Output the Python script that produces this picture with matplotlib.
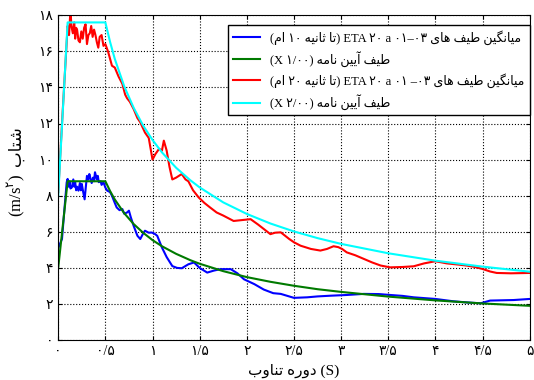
import matplotlib
matplotlib.use('Agg')
import matplotlib.pyplot as plt
from matplotlib.font_manager import FontProperties

# Persian letters -> (isolated, final, initial, medial) presentation forms
FORMS = {
    'ا': ('\uFE8D', '\uFE8E', None, None),
    'آ': ('\uFE81', '\uFE82', None, None),
    'ب': ('\uFE8F', '\uFE90', '\uFE91', '\uFE92'),
    'ت': ('\uFE95', '\uFE96', '\uFE97', '\uFE98'),
    'ث': ('\uFE99', '\uFE9A', '\uFE9B', '\uFE9C'),
    'د': ('\uFEA9', '\uFEAA', None, None),
    'ر': ('\uFEAD', '\uFEAE', None, None),
    'ش': ('\uFEB5', '\uFEB6', '\uFEB7', '\uFEB8'),
    'ط': ('\uFEC1', '\uFEC2', '\uFEC3', '\uFEC4'),
    'ف': ('\uFED1', '\uFED2', '\uFED3', '\uFED4'),
    'م': ('\uFEE1', '\uFEE2', '\uFEE3', '\uFEE4'),
    'ن': ('\uFEE5', '\uFEE6', '\uFEE7', '\uFEE8'),
    'ه': ('\uFEE9', '\uFEEA', '\uFEEB', '\uFEEC'),
    'و': ('\uFEED', '\uFEEE', None, None),
    'ی': ('\uFBFC', '\uFBFD', '\uFBFE', '\uFBFF'),
    'گ': ('\uFB92', '\uFB93', '\uFB94', '\uFB95'),
}


def fa(text):
    """shape persian words and return them in visual (left to right) order"""
    out = []
    for i, c in enumerate(text):
        if c not in FORMS:
            out.append(c)
            continue
        prev = text[i - 1] if i > 0 else ''
        nxt = text[i + 1] if i < len(text) - 1 else ''
        join_prev = prev in FORMS and FORMS[prev][2] is not None
        join_next = nxt in FORMS and FORMS[c][2] is not None
        iso, fin, ini, med = FORMS[c]
        if join_prev and join_next:
            out.append(med)
        elif join_prev:
            out.append(fin)
        elif join_next:
            out.append(ini)
        else:
            out.append(iso)
    return ''.join(out[::-1])


# ---- data ----
code_T = [0.0, 0.1, 0.5, 0.55, 0.6, 0.7, 0.8, 0.9, 1.0, 1.1, 1.25, 1.4, 1.5,
          1.75, 2.0, 2.25, 2.5, 2.75, 3.0, 3.5, 4.0, 4.5, 5.0]
code_x1 = [4.0, 8.8, 8.8, 8.26, 7.79, 7.03, 6.43, 5.95, 5.54, 5.20, 4.78, 4.43,
           4.23, 3.82, 3.49, 3.23, 3.01, 2.82, 2.67, 2.41, 2.20, 2.03, 1.90]
code_x2 = [8.0, 17.6, 17.6, 16.52, 15.58, 14.06, 12.87, 11.89, 11.09, 10.40, 9.55,
           8.86, 8.46, 7.63, 6.99, 6.46, 6.02, 5.65, 5.33, 4.81, 4.40, 4.07, 3.79]

blue_T = [0.0, 0.04, 0.07, 0.09, 0.1, 0.11, 0.12, 0.13, 0.145, 0.16, 0.17, 0.18,
          0.19, 0.2, 0.215, 0.23, 0.24, 0.25, 0.265, 0.28, 0.295, 0.305, 0.32,
          0.33, 0.34, 0.355, 0.37, 0.38, 0.39, 0.41, 0.42, 0.43, 0.45, 0.46,
          0.48, 0.5, 0.52, 0.55, 0.57, 0.6, 0.62, 0.65, 0.68, 0.7,
          0.73, 0.75, 0.77, 0.8, 0.84, 0.87, 0.9, 0.92, 0.96, 0.99, 1.02, 1.05,
          1.1, 1.15, 1.21, 1.26, 1.31, 1.38, 1.44, 1.5, 1.58, 1.65, 1.72, 1.83,
          1.9, 1.97, 2.08, 2.18, 2.28, 2.36, 2.5, 2.64, 2.75, 2.89, 3.06, 3.24,
          3.4, 3.52, 3.65, 3.77, 4.0, 4.19, 4.35, 4.48, 4.58, 4.83, 5.0]
blue_v = [5.1, 5.6, 7.5, 8.74, 8.93, 8.5, 8.8, 8.4, 8.46, 8.9, 8.5, 8.74,
          8.3, 8.5, 8.28, 8.7, 8.3, 8.65, 8.2, 7.8, 8.6, 9.1, 8.9,
          9.2, 9.0, 8.7, 9.0, 8.8, 9.3, 8.9, 9.1, 8.75, 8.8, 8.6,
          8.75, 8.45, 8.28, 8.2, 8.0, 7.6, 7.35, 7.2, 7.26, 7.0,
          7.07, 7.17, 6.8, 6.33, 5.78, 5.6, 5.9, 6.06, 5.95, 5.96, 5.9, 5.78,
          5.13, 4.6, 4.1, 4.0, 3.98, 4.2, 4.3, 4.0, 3.74, 3.85, 3.93, 3.93,
          3.7, 3.37, 3.1, 2.8, 2.6, 2.56, 2.34, 2.37, 2.42, 2.46, 2.5, 2.56,
          2.55, 2.5, 2.45, 2.37, 2.28, 2.15, 2.08, 2.04, 2.19, 2.22, 2.28]

red_T = [0.0, 0.05, 0.1, 0.115, 0.13, 0.14, 0.155, 0.17, 0.18, 0.19, 0.2, 0.215,
         0.23, 0.245, 0.26, 0.275, 0.29, 0.305, 0.32, 0.335, 0.35, 0.365, 0.38,
         0.395, 0.41, 0.425, 0.44, 0.46, 0.48, 0.5, 0.53, 0.57, 0.6, 0.64, 0.68,
         0.71, 0.73, 0.76, 0.8, 0.84, 0.87, 0.92, 0.96, 1.0, 1.03, 1.07, 1.1,
         1.12, 1.15, 1.18, 1.21, 1.25, 1.31, 1.35, 1.38, 1.43, 1.49, 1.55, 1.61,
         1.68, 1.75, 1.86, 1.95, 2.04, 2.12, 2.25, 2.3, 2.36, 2.45, 2.5, 2.57,
         2.68, 2.78, 2.85, 2.92, 2.97, 3.01, 3.06, 3.15, 3.24, 3.33, 3.42, 3.52,
         3.65, 3.77, 3.88, 4.0, 4.12, 4.25, 4.33, 4.42, 4.5, 4.58, 4.65, 4.8, 5.0]
red_v = [8.2, 12.9, 17.4, 16.9, 18.3, 17.4, 17.0, 17.6, 16.7, 17.3, 17.2, 16.6,
         16.5, 17.1, 16.7, 17.3, 17.5, 16.4, 16.9, 17.0, 17.4, 16.8, 17.2,
         16.9, 16.5, 16.2, 16.8, 16.9, 16.3, 16.4, 15.96, 15.2, 15.1, 14.6, 14.2,
         13.6, 13.4, 13.2, 12.8, 12.3, 12.07, 11.5, 11.2, 10.0, 10.3, 10.6, 10.5,
         11.05, 10.5, 9.6, 8.9, 9.0, 9.2, 8.9, 8.8, 8.3, 7.9, 7.6, 7.35,
         7.07, 6.9, 6.6, 6.65, 6.7, 6.4, 5.87, 5.95, 5.97, 5.6, 5.42, 5.23,
         5.05, 4.96, 5.05, 5.2, 5.15, 5.05, 4.86, 4.7, 4.5, 4.3, 4.13, 4.03,
         4.05, 4.09, 4.25, 4.37, 4.25, 4.18, 4.13, 4.05, 3.94, 3.8, 3.72, 3.7, 3.72]

fa_digits = str.maketrans('0123456789.', '۰۱۲۳۴۵۶۷۸۹/')
x_ticks = [0, 0.5, 1, 1.5, 2, 2.5, 3, 3.5, 4, 4.5, 5]
y_ticks = [0, 2, 4, 6, 8, 10, 12, 14, 16, 18]
x_labels = [('%g' % t).translate(fa_digits) for t in x_ticks]
y_labels = [('%g' % t).translate(fa_digits) for t in y_ticks]

avg = fa('میانگین طیف های')
upto = fa('تا ثانیه')
code = fa('طیف آیین نامه')
labels = [
    '(' + fa('ام') + ' ۱۰ ' + upto + ') ETA ۲۰ a ۰۱–۰۳ ' + avg,
    '(X ۱/۰۰) ' + code,
    '(' + fa('ام') + ' ۲۰ ' + upto + ') ETA ۲۰ a ۰۱ –۰۳ ' + avg,
    '(X ۲/۰۰) ' + code,
]

fam = ['Liberation Serif', 'DejaVu Sans']
plt.rcParams['font.family'] = fam
plt.rcParams['mathtext.fontset'] = 'dejavusans'

fig = plt.figure(figsize=(5.34, 3.8), dpi=100)
ax = fig.add_axes([0.109, 0.105, 0.883, 0.855])

ax.plot(blue_T, blue_v, color='#0000ff', lw=1.5, label=labels[0])
ax.plot(code_T, code_x1, color='#007a00', lw=1.5, label=labels[1])
ax.plot(red_T, red_v, color='#ff0000', lw=1.5, label=labels[2])
ax.plot(code_T, code_x2, color='#00ffff', lw=1.5, label=labels[3])

ax.set_xlim(0, 5)
ax.set_ylim(0, 18)
ax.set_xticks(x_ticks)
ax.set_xticklabels(x_labels, fontsize=10)
ax.set_yticks(y_ticks)
ax.set_yticklabels(y_labels, fontsize=10)
ax.tick_params(direction='in', top=True, right=True, length=3)
ax.grid(True, linestyle=':', color='black', linewidth=0.8)

ax.set_xlabel(fa('دوره تناوب') + ' (S)', fontsize=11)

# y label in two pieces: units (with superscript) and the persian word
fig.text(0.03, 0.485, '(m/s$^{۲}$)', rotation=90, ha='center', va='center',
         fontsize=12)
fig.text(0.03, 0.615, fa('شتاب'), rotation=90, ha='center', va='center',
         fontsize=12, family=fam)

leg = ax.legend(loc='upper right', bbox_to_anchor=(1.0, 0.97), borderaxespad=0,
                prop=FontProperties(family=fam, size=9), fancybox=False,
                edgecolor='black', framealpha=1, handlelength=2.2,
                labelspacing=0.5, borderpad=0.4)
leg.get_frame().set_linewidth(1.0)

fig.savefig('out.png', dpi=100)
